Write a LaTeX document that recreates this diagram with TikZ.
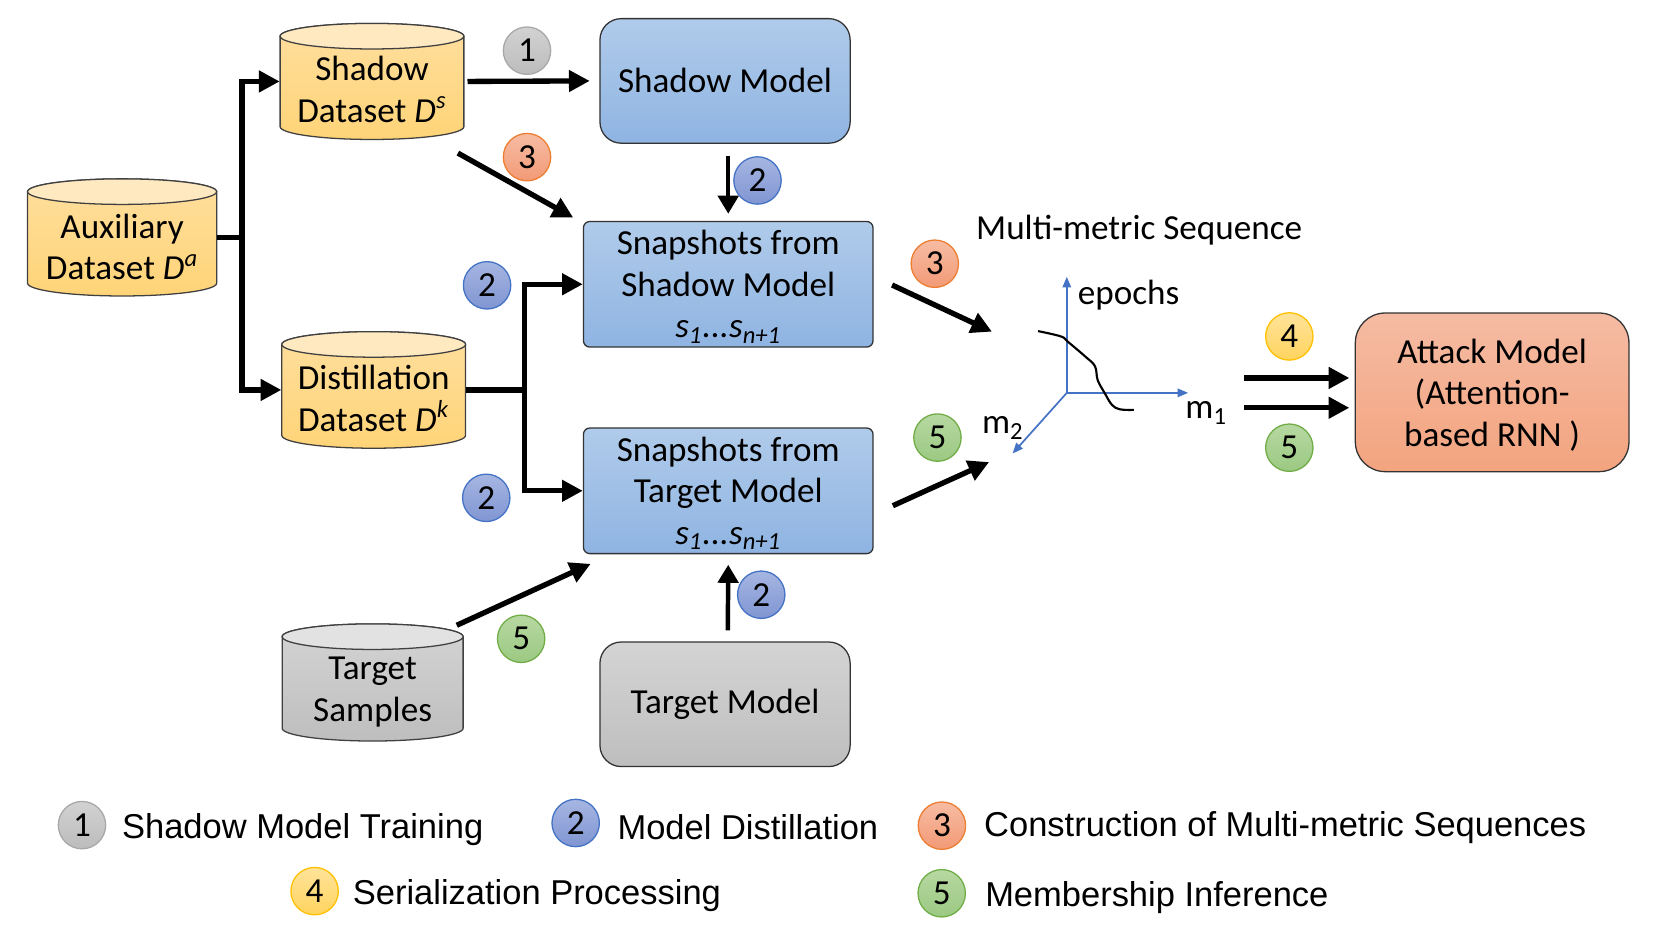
\documentclass[tikz,border=0pt]{standalone}
\usepackage{fontspec}
\setmainfont{Carlito}
\newfontfamily\legfont{Liberation Sans}
\usetikzlibrary{arrows.meta}
\definecolor{yltop}{HTML}{FFE9C0}
\definecolor{ylA}{HTML}{FFDF9E}
\definecolor{ylB}{HTML}{FFD478}
\definecolor{grtop}{HTML}{E2E2E2}
\definecolor{grA}{HTML}{D4D4D4}
\definecolor{grB}{HTML}{BEBEBE}
\definecolor{blA}{HTML}{B0CBEA}
\definecolor{blB}{HTML}{8FB4E2}
\definecolor{atA}{HTML}{F5BBA3}
\definecolor{atB}{HTML}{F3A47F}
\definecolor{axisblue}{HTML}{4472C4}
\definecolor{cgA}{HTML}{D2D2D2}\definecolor{cgB}{HTML}{BCBCBC}\definecolor{cgD}{HTML}{A8A8A8}
\definecolor{cbA}{HTML}{A6B6E2}\definecolor{cbB}{HTML}{8095D2}\definecolor{cbD}{HTML}{4472C4}
\definecolor{coA}{HTML}{F7BCA3}\definecolor{coB}{HTML}{F29A76}\definecolor{coD}{HTML}{ED7D31}
\definecolor{cgrA}{HTML}{B7D8A2}\definecolor{cgrB}{HTML}{9BC982}\definecolor{cgrD}{HTML}{70AD47}
\definecolor{cyA}{HTML}{FFE39A}\definecolor{cyB}{HTML}{FFD45E}\definecolor{cyD}{HTML}{FFC000}
\tikzset{
  lbl/.style={font=\fontsize{16.5}{19.5}\selectfont, align=center},
  boxbase/.style={draw=black!80, line width=0.6pt, inner sep=0pt, lbl},
  bluebox/.style={boxbase, top color=blA, bottom color=blB},
  graybox/.style={boxbase, top color=grA, bottom color=grB},
  atkbox/.style={boxbase, top color=atA, bottom color=atB},
  thickline/.style={line width=2.5pt},
  bigarrow/.style={line width=2.5pt, -{Triangle[length=9.75pt,width=9.75pt]}},
  midarrow/.style={line width=2.1pt, -{Triangle[length=8.5pt,width=9.5pt]}},
  axisline/.style={draw=axisblue, line width=0.8pt, -{Triangle[length=5pt,width=4pt]}},
  num/.style={circle, line width=0.6pt, minimum size=22.25pt, inner sep=0pt, font=\fontsize{16.5}{20}\selectfont},
  cgray/.style={num, draw=cgD, top color=cgA, bottom color=cgB},
  cblue/.style={num, draw=cbD, top color=cbA, bottom color=cbB},
  corange/.style={num, draw=coD, top color=coA, bottom color=coB},
  cgreen/.style={num, draw=cgrD, top color=cgrA, bottom color=cgrB},
  cyellow/.style={num, draw=cyD, top color=cyA, bottom color=cyB},
  legtext/.style={font=\legfont\fontsize{16.2}{19}\selectfont, anchor=west, inner sep=0pt},
}
% name, cx, top, bot, rx, colour prefix, text centre y, text
\newcommand\dbcyl[8]{%
  \path[top color=#6A, bottom color=#6B, draw=black!75, line width=0.6pt]
    (#2-#5, #3+12) -- (#2-#5, #4-12)
    arc[start angle=180, end angle=0, x radius=#5, y radius=12]
    -- (#2+#5, #3+12)
    arc[start angle=0, end angle=-180, x radius=#5, y radius=12] -- cycle;
  \path[fill=#6top, draw=black!75, line width=0.6pt] (#2, #3+12) ellipse[x radius=#5, y radius=12];
  \node[inner sep=0pt, minimum width=#5pt, minimum height={(#4-#3)*0.5pt}] (#1) at (#2, {(#3+#4)/2}) {};
  \node[lbl] (#1-t) at (#2, #7) {#8};
}
\newcommand\sline{\textit{s}\textsubscript{\textit{1}}\textit{...s}\textsubscript{\textit{n+1}}}
\begin{document}
\begin{tikzpicture}[x=0.5pt, y=-0.5pt]
\useasboundingbox (0,0) rectangle (1560.1, 877.3);

% datasets
\dbcyl{aux}{114.7}{168}{278}{88.8}{yl}{232}{Auxiliary\\Dataset \textit{D}\textsuperscript{\textit{a}}}
\dbcyl{sds}{349.4}{22}{131}{86.3}{yl}{84}{Shadow\\Dataset \textit{D}\textsuperscript{\textit{s}}}
\dbcyl{dds}{351}{311.5}{421}{86.3}{yl}{374}{Distillation\\Dataset \textit{D}\textsuperscript{\textit{k}}}
\dbcyl{tsm}{350}{586}{696}{85}{gr}{650}{Target\\Samples}

% models
\node[bluebox, rounded corners=10pt, minimum width=117.5pt, minimum height=58.5pt] (sm) at (681,76) {Shadow Model};
\node[bluebox, rounded corners=3pt, minimum width=136pt, minimum height=59pt] (ss) at (684,267) {};
\node[lbl] (ss-t) at ([yshift=-1.2pt]ss.center) {Snapshots from\\Shadow Model\\\sline};
\node[bluebox, rounded corners=3pt, minimum width=136pt, minimum height=59pt] (st) at (684,461) {};
\node[lbl] (st-t) at ([yshift=-1.2pt]st.center) {Snapshots from\\Target Model\\\sline};
\node[graybox, rounded corners=10pt, minimum width=117.5pt, minimum height=58.5pt] (tm) at (681,661.5) {Target Model};
\node[atkbox, rounded corners=14pt, minimum width=128.5pt, minimum height=74.5pt] (atk) at (1401.5,368.5) {};
\node[lbl] (atk-t) at ([yshift=-1.3pt]atk.center) {Attack Model\\(Attention-\\based RNN )};

% connectors
\draw[thickline] (aux.east) -- ++(23.5,0) coordinate (j1);
\draw[bigarrow] (j1) |- (sds.west);
\draw[bigarrow] (j1) |- (dds.west);
\draw[thickline] (dds.east) -- ++(54.7,0) coordinate (j2);
\draw[bigarrow] (j2) |- (ss.west);
\draw[bigarrow] (j2) |- (st.west);
\draw[bigarrow] ([xshift=1.5pt]sds.east) -- ([xshift=-4.5pt]sm.west);
\draw[bigarrow] ([xshift=-3pt,yshift=-6.2pt]sds.south east) -- ([xshift=-4.5pt,yshift=1.5pt]ss.north west);
\draw[midarrow] ([xshift=1.5pt,yshift=-5.5pt]sm.south) -- ([yshift=3.3pt]ss.north);
\draw[bigarrow] ([xshift=-3.2pt,yshift=-0.85pt]tsm.north east) -- ([xshift=3.7pt,yshift=-4.5pt]st.south west);
\draw[midarrow] ([xshift=1.3pt,yshift=5.2pt]tm.north) -- ([yshift=-4.9pt]st.south);

% multi-metric sequence
\node[lbl] (mms) at (1070,216) {Multi-metric Sequence};
\coordinate (o) at (1002,369);
\coordinate (ey) at (1002,260);
\coordinate (em1) at (1116,369);
\coordinate (em2) at (951,426);
\draw[axisline] (o) -- (ey);
\draw[axisline] (o) -- (em1);
\draw[axisline] (o) -- (em2);
\draw[line width=1pt] plot[smooth, tension=0.6] coordinates {(975,311) (996.5,316) (1003,321) (1019.5,335) (1028.5,344) (1031,357) (1037.7,369.4) (1044.5,380.4) (1052,384.5) (1065,385)};
\node[lbl, anchor=west, inner sep=0pt] (lep) at (1012,277) {epochs};
\node[lbl, inner sep=0pt] (lm1) at (1133,388) {m\textsubscript{1}};
\node[lbl, inner sep=0pt] (lm2) at (942,402) {m\textsubscript{2}};
\coordinate (ax3) at (931.7,311.5);
\coordinate (ax5) at (929,434);
\draw[bigarrow] ([xshift=8.65pt,yshift=-0.35pt]ss.east) -- (ax3);
\draw[bigarrow] ([xshift=9pt,yshift=-7pt]st.east) -- (ax5);
\coordinate (sq4) at (1168.5,355);
\coordinate (sq5) at (1168.5,383);
\draw[bigarrow] (sq4) -- ([xshift=-2.5pt,yshift=6.75pt]atk.west);
\draw[bigarrow] (sq5) -- ([xshift=-2.5pt,yshift=-7.25pt]atk.west);

% step markers
\node[cgray] (n1) at (495,47.6) {1};
\node[corange] (n3a) at (495,147.6) {3};
\node[cblue] (n2a) at (711.5,169.5) {2};
\node[cblue] (n2b) at (457.5,268) {2};
\node[cblue] (n2c) at (456.7,467.6) {2};
\node[cblue] (n2d) at (715,558.6) {2};
\node[cgreen] (n5a) at (489.5,600) {5};
\node[corange] (n3b) at (878,247.7) {3};
\node[cgreen] (n5b) at (880.5,411) {5};
\node[cyellow] (n4) at (1211,316) {4};
\node[cgreen] (n5c) at (1211,420.5) {5};

% legend
\node[cgray] (l1) at (77,775) {1};
\node[legtext] (t1) at (114.3,779.5) {Shadow Model Training};
\node[cblue] (l2) at (540.7,773) {2};
\node[legtext] (t2) at (579.6,777) {Model Distillation};
\node[corange] (l3) at (884.7,775.5) {3};
\node[legtext] (t3) at (924,777) {Construction of Multi-metric Sequences};
\node[cyellow] (l4) at (295.5,837) {4};
\node[legtext] (t4) at (331,841) {Serialization Processing};
\node[cgreen] (l5) at (884.5,839) {5};
\node[legtext] (t5) at (925,843) {Membership Inference};
\end{tikzpicture}
\end{document}
